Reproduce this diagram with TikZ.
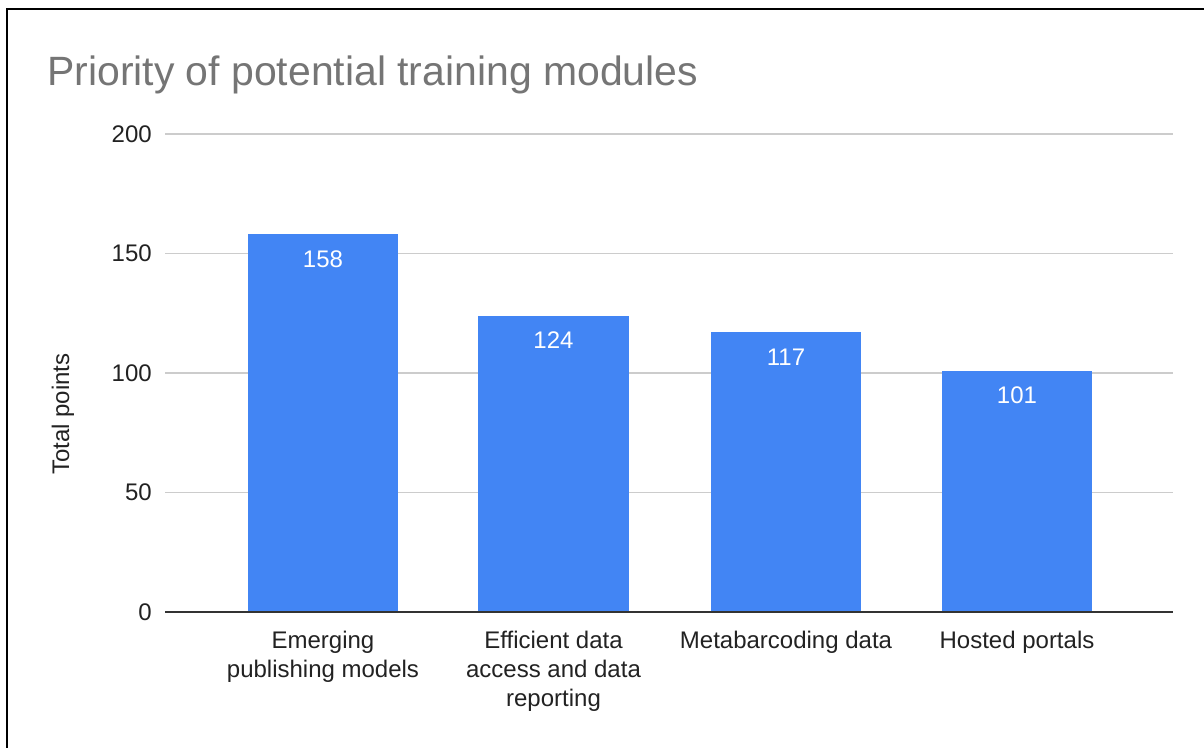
\documentclass[tikz,border=0pt]{standalone}
\usepackage{fontspec}
\setmainfont{Liberation Sans}
\definecolor{barblue}{HTML}{4285F4}
\definecolor{gridgray}{HTML}{CCCCCC}
\definecolor{axisgray}{HTML}{333333}
\definecolor{titlegray}{HTML}{757575}
\definecolor{labelgray}{HTML}{222222}
\tikzset{
  grid line/.style={draw=gridgray, line width=0.9pt},
  axis line/.style={draw=axisgray, line width=1.3pt},
  bar/.style={fill=barblue},
  ticklabel/.style={anchor=east, inner sep=0pt, text=labelgray, font=\fontsize{18}{21.75}\selectfont},
  catlabel/.style={anchor=north, inner sep=0pt, align=center, text=labelgray, font=\fontsize{18}{21.75}\selectfont},
  vallabel/.style={inner sep=0pt, text=white, font=\fontsize{18}{21.75}\selectfont},
  frameline/.style={draw=black, line width=1.6pt},
}
\begin{document}
\begin{tikzpicture}[x=0.75pt, y=-0.75pt]
\useasboundingbox (0,0) rectangle (1204,747);
\fill[white] (0,0) rectangle (1204,747);
% frame
\draw[frameline] (7,760) -- (7,9) -- (1215,9);
% title
\node[anchor=base west, inner sep=0pt, text=titlegray, font=\fontsize{30.7}{36}\selectfont] (title) at (47,85) {Priority of potential training modules};
% grid lines
\coordinate (g0l) at (165,612);   \coordinate (g0r) at (1173,612);
\coordinate (g50l) at (165,492.5); \coordinate (g50r) at (1173,492.5);
\coordinate (g100l) at (165,373); \coordinate (g100r) at (1173,373);
\coordinate (g150l) at (165,253.5); \coordinate (g150r) at (1173,253.5);
\coordinate (g200l) at (165,134); \coordinate (g200r) at (1173,134);
\draw[grid line] (g50l) -- (g50r);
\draw[grid line] (g100l) -- (g100r);
\draw[grid line] (g150l) -- (g150r);
\draw[grid line] (g200l) -- (g200r);
% tick labels
\node[ticklabel] (t0) at (152,612) {0};
\node[ticklabel] (t50) at (152,492.5) {50};
\node[ticklabel] (t100) at (152,373) {100};
\node[ticklabel] (t150) at (152,253.5) {150};
\node[ticklabel] (t200) at (152,134) {200};
% axis title
\node[rotate=90, inner sep=0pt, text=labelgray, font=\fontsize{18}{21.75}\selectfont] (ytitle) at (63,414) {Total points};
% bars
\fill[bar] (248,612) rectangle (398,234.4);
\fill[bar] (478,612) rectangle (629,315.6);
\fill[bar] (711,612) rectangle (861,332.4);
\fill[bar] (942,612) rectangle (1092,370.6);
% value labels
\node[vallabel] (v1) at (323,259.4) {158};
\node[vallabel] (v2) at (553.5,340.6) {124};
\node[vallabel] (v3) at (786,357.4) {117};
\node[vallabel] (v4) at (1017,395.6) {101};
% zero axis
\draw[axis line] (g0l) -- (g0r);
% category labels
\node[catlabel] (c1) at (323,631) {Emerging\\publishing models};
\node[catlabel] (c2) at (553.5,631) {Efficient data\\access and data\\reporting};
\node[catlabel] (c3) at (786,631) {Metabarcoding data};
\node[catlabel] (c4) at (1017,631) {Hosted portals};
\end{tikzpicture}
\end{document}
